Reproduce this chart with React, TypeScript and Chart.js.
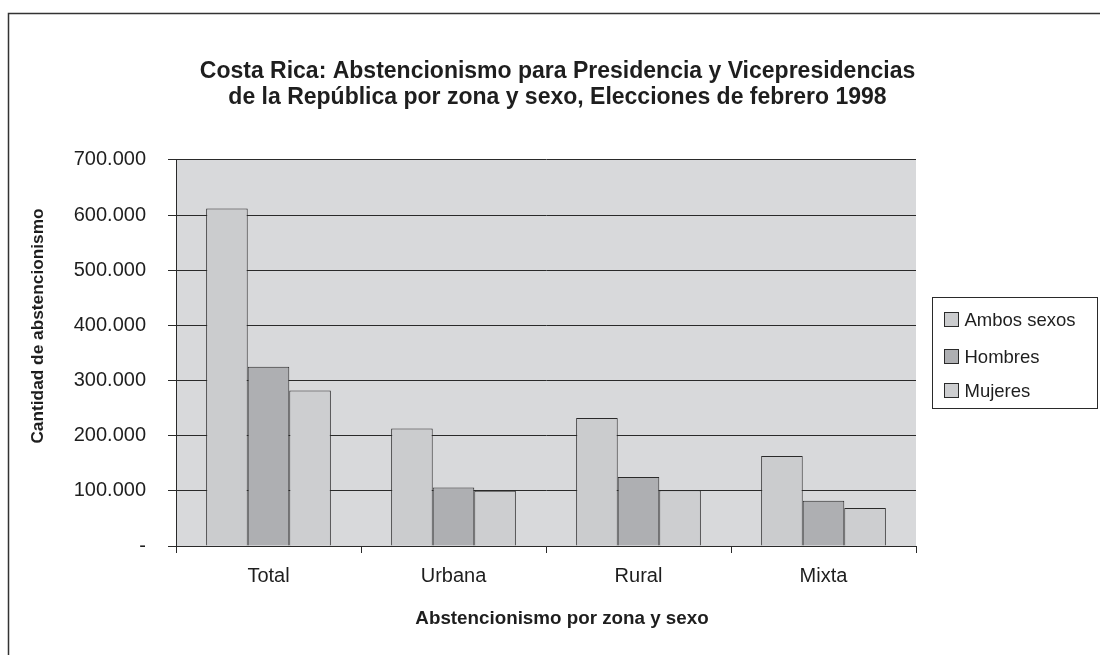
import React, { useEffect, useRef } from "react";
import { Chart, registerables } from "chart.js";

Chart.register(...registerables);

const titleLines = [
  "Costa Rica: Abstencionismo para Presidencia y Vicepresidencias",
  "de la República por zona y sexo, Elecciones de febrero 1998",
];
const categories = ["Total", "Urbana", "Rural", "Mixta"];
const seriesNames = ["Ambos sexos", "Hombres", "Mujeres"];
const ambosSexos = [612000, 213000, 232000, 163000];
const hombres = [325000, 106000, 125000, 82000];
const mujeres = [282000, 100000, 101000, 69000];
const seriesColors = ["#cbccce", "#aeafb2", "#cdced0"];
const yTitle = "Cantidad de abstencionismo";
const xTitle = "Abstencionismo por zona y sexo";

const FONT = "'Liberation Sans', Arial, Helvetica, sans-serif";
const INK = "#1e1e1e";
const LINE = "#2a2a2a";

const formatThousands = (v: number) =>
  v === 0 ? "-" : String(Math.round(v)).replace(/\B(?=(\d{3})+(?!\d))/g, ".");

// grey plot background and the outer frame of the chart object
const backdrop = {
  id: "backdrop",
  beforeDraw(chart: any) {
    const { ctx, chartArea: a } = chart;
    ctx.save();
    ctx.fillStyle = "#ffffff";
    ctx.fillRect(0, 0, chart.width, chart.height);
    ctx.fillStyle = "#d8d9db";
    ctx.fillRect(a.left, a.top, a.right - a.left, a.bottom - a.top);
    ctx.strokeStyle = "#333333";
    ctx.lineWidth = 1.5;
    ctx.beginPath();
    ctx.moveTo(8.5, chart.height);
    ctx.lineTo(8.5, 13.5);
    ctx.lineTo(chart.width, 13.5);
    ctx.stroke();
    ctx.restore();
  },
};

// axis titles, centred on the chart object rather than on the plot area
const axisTitles = {
  id: "axisTitles",
  afterDraw(chart: any) {
    const { ctx, chartArea: a } = chart;
    ctx.save();
    ctx.fillStyle = INK;
    ctx.textAlign = "center";
    ctx.textBaseline = "middle";
    ctx.font = `bold 18.8px ${FONT}`;
    ctx.fillText(xTitle, (a.left + a.right) / 2 + 16, 619);
    ctx.translate(38, (a.top + a.bottom) / 2 - 27);
    ctx.rotate(-Math.PI / 2);
    ctx.font = `bold 17.3px ${FONT}`;
    ctx.fillText(yTitle, 0, 0);
    ctx.restore();
  },
};

// boxed legend to the right of the plot area
const boxedLegend = {
  id: "boxedLegend",
  afterDraw(chart: any) {
    const { ctx, chartArea: a } = chart;
    const left = Math.round(a.right + 16) + 0.5;
    const w = 165;
    const h = 111;
    const top = Math.round((a.top + a.bottom) / 2 - h / 2) + 0.5;
    ctx.save();
    ctx.fillStyle = "#ffffff";
    ctx.fillRect(left, top, w, h);
    ctx.strokeStyle = LINE;
    ctx.lineWidth = 1;
    ctx.strokeRect(left, top, w, h);
    const rows = [22, 59, 93];
    ctx.font = `18.5px ${FONT}`;
    ctx.textBaseline = "middle";
    ctx.textAlign = "left";
    chart.data.datasets.forEach((ds: any, i: number) => {
      const cy = top + rows[i];
      ctx.fillStyle = ds.backgroundColor;
      ctx.fillRect(left + 12, cy - 7, 14, 14);
      ctx.strokeStyle = LINE;
      ctx.strokeRect(left + 12, cy - 7, 14, 14);
      ctx.fillStyle = INK;
      ctx.fillText(ds.label, left + 32, cy + 1);
    });
    ctx.restore();
  },
};

export default function App() {
  const canvasRef = useRef<HTMLCanvasElement | null>(null);

  useEffect(() => {
    if (!canvasRef.current) return;
    const seriesValues = [ambosSexos, hombres, mujeres];
    const chart = new Chart(canvasRef.current, {
      type: "bar",
      data: {
        labels: categories,
        datasets: seriesNames.map((name, i) => ({
          label: name,
          data: seriesValues[i],
          backgroundColor: seriesColors[i],
          borderColor: LINE,
          borderWidth: 1,
          categoryPercentage: 0.674,
          barPercentage: 1,
        })),
      },
      options: {
        animation: false,
        responsive: false,
        devicePixelRatio: 1,
        layout: { padding: { left: 15, right: 0, top: 59, bottom: 0 } },
        plugins: {
          legend: { display: false },
          tooltip: { enabled: false },
          title: {
            display: true,
            text: titleLines,
            color: INK,
            font: { family: FONT, size: 23, weight: "bold", lineHeight: 1.13 },
            padding: { top: 0, bottom: 49 },
          },
        },
        scales: {
          x: {
            grid: {
              offset: true,
              drawOnChartArea: false,
              tickLength: 7,
              color: LINE,
            },
            border: { color: LINE },
            ticks: {
              color: INK,
              font: { family: FONT, size: 20 },
              padding: 11,
            },
            afterFit: (s: any) => {
              s.height = 109;
            },
          },
          y: {
            min: 0,
            max: 700000,
            grid: { color: LINE, tickLength: 8 },
            border: { color: LINE },
            ticks: {
              stepSize: 100000,
              color: INK,
              font: { family: FONT, size: 20 },
              padding: 22,
              callback: (v: any) => formatThousands(Number(v)),
            },
            afterFit: (s: any) => {
              s.width = 161;
            },
          },
          legendSpace: {
            type: "linear",
            position: "right",
            display: true,
            grid: { display: false, drawTicks: false },
            border: { display: false },
            ticks: { display: false },
            afterFit: (s: any) => {
              s.width = 184;
            },
          },
        },
      },
      plugins: [backdrop, axisTitles, boxedLegend],
    } as any);
    return () => chart.destroy();
  }, []);

  return (
    <div style={{ position: "fixed", left: 0, top: 0, width: 1100, height: 655, background: "#fff" }}>
      <canvas ref={canvasRef} width={1100} height={655} />
    </div>
  );
}
